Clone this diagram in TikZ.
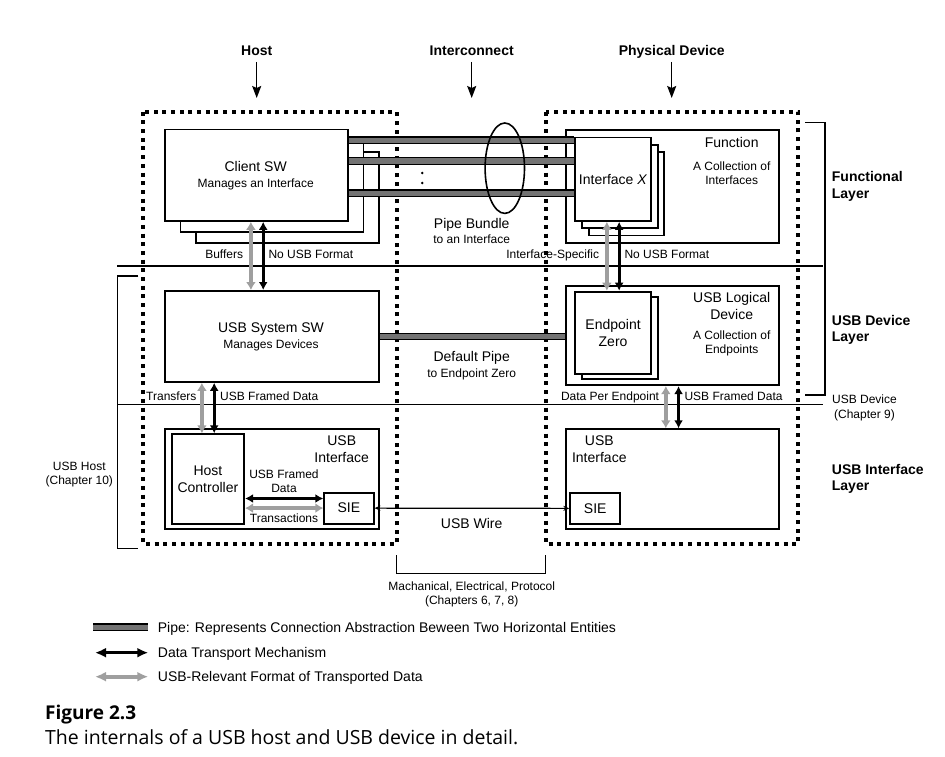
\documentclass[tikz,border=0pt]{standalone}
\usepackage{fontspec}
\setmainfont{Liberation Sans}
\newfontfamily\capfont{Open Sans}
\usepackage{tikz}
\usetikzlibrary{arrows.meta,positioning,calc}

\begin{document}
\begin{tikzpicture}[x=1pt,y=-1pt,
    every node/.style={inner sep=0pt},
    lbl/.style={font=\fontsize{14}{16.7}\selectfont, align=center},
    sublbl/.style={font=\fontsize{12}{14.4}\selectfont, align=center},
    hdrlbl/.style={font=\fontsize{14}{16.3}\selectfont\bfseries, anchor=base},
    layerlbl/.style={font=\fontsize{14}{16.3}\selectfont\bfseries, align=left, anchor=west},
    box/.style={draw, line width=1.8pt, fill=white, anchor=north west},
    dotline/.style={line width=4pt, dash pattern=on 4pt off 4.7pt},
    layerline/.style={line width=1.5pt},
    pipe/.style={line width=1.4pt, double=gray!90!black, double distance=5pt},
    xfer/.style={line width=2.8pt, {Latex[length=8pt,width=9pt]}-{Latex[length=8pt,width=9pt]}},
    fmt/.style={line width=3.6pt, gray!75, {Latex[length=8pt,width=10pt]}-{Latex[length=8pt,width=10pt]}},
    wire/.style={line width=1.2pt, {Stealth[length=6pt,width=5pt]}-{Stealth[length=6pt,width=5pt]}},
    hdrarrow/.style={line width=1.5pt, -{Stealth[length=12pt,width=9pt,inset=2pt]}, shorten <=6pt}
]
    \useasboundingbox (0,0) rectangle (945,757);

    % Column headers
    \node[hdrlbl] (hdrhost) at (256.7,55.7) {Host};
    \node[hdrlbl] (hdricon) at (471.7,55.7) {Interconnect};
    \node[hdrlbl] (hdrdev) at (671.7,55.7) {Physical Device};
    \coordinate (hostin) at (256.7,98);
    \coordinate (iconin) at (471.7,98);
    \coordinate (devin) at (671.7,98);
    \foreach \h/\c in {hdrhost/hostin, hdricon/iconin, hdrdev/devin}
        \draw[hdrarrow] (\h.base |- 0,56) -- (\c);

    % Dotted outlines of host and device
    \draw[dotline] (143.3,111.7) rectangle (396.7,544);
    \draw[dotline] (546,111.7) rectangle (798.3,544);

    % Layer rules and brackets
    \draw[layerline] (117,266) -- (823,266);
    \draw[layerline] (117,404.6) -- (823,404.6);
    \draw[layerline] (138.3,276) -- (117.3,276) -- (117.3,548.3) -- (138.3,548.3);
    \draw[layerline] (805,122.7) -- (825,122.7) -- (825,395) -- (805,395);
    \draw[layerline] (396.7,555) -- (396.7,573.3) -- (545.7,573.3) -- (545.7,555);

    % Functional layer
    \foreach \i in {2,1}
        \node[box, minimum width=183, minimum height=91.3] (client\i) at ({164.3+15.3*\i},{128.7+11.2*\i}) {};
    \node[box, minimum width=183, minimum height=91.3] (client) at (164.3,128.7) {};
    \node[lbl, anchor=base] (clientname) at (255.7,171.7) {Client SW};
    \node[sublbl, anchor=base] (clientdesc) at (255.7,187.6) {Manages an Interface};

    \node[box, minimum width=212.7, minimum height=112.7] (func) at (565,129) {};
    \node[lbl, anchor=base] (funcname) at (731.7,147.7) {Function};
    \node[sublbl] (funcdesc) at (731.7,173) {A Collection of\\Interfaces};
    \foreach \i in {2,1}
        \node[box, minimum width=75.7, minimum height=83.3] (ifx\i) at ({574.3+6.7*\i},{136.7+7.3*\i}) {};
    \node[box, lbl, minimum width=75.7, minimum height=83.3] (ifx) at (574.3,136.7) {Interface \textit{X}};

    % Pipe bundle
    \foreach \py in {140.3,161,193}
        \draw[pipe] (client.east |- 0,\py) -- (ifx.west |- 0,\py);
    \draw[line width=1.6pt] (504.8,168.2) ellipse [x radius=19.7, y radius=45.2];
    \fill (422.3,173) circle[radius=1.4] (422.3,183) circle[radius=1.4];
    \node[lbl, anchor=base] (bundle) at (471.7,228.3) {Pipe Bundle};
    \node[sublbl, anchor=base] (bundledesc) at (471.7,243.6) {to an Interface};

    % USB device layer
    \node[box, minimum width=214, minimum height=91] (sys) at (164.3,290) {};
    \node[lbl, anchor=base] (sysname) at (271,332.3) {USB System SW};
    \node[sublbl, anchor=base] (sysdesc) at (271,348.6) {Manages Devices};

    \node[box, minimum width=213.3, minimum height=99.3] (logical) at (565,285) {};
    \node[lbl] (logname) at (731.7,306.3) {USB Logical\\Device};
    \node[sublbl] (logdesc) at (731.7,343.2) {A Collection of\\Endpoints};
    \node[box, minimum width=75.7, minimum height=82.6] (ep1) at (581,295.7) {};
    \node[box, lbl, minimum width=75.7, minimum height=82.6] (ep) at (574.3,290.7) {Endpoint\\Zero};

    \draw[pipe] (sys.east) -- (sys.east -| logical.west);
    \node[lbl, anchor=base] (defpipe) at (471.7,361) {Default Pipe};
    \node[sublbl, anchor=base] (defpipedesc) at (471.7,377.6) {to Endpoint Zero};

    % USB interface layer
    \node[box, minimum width=214, minimum height=99.4] (hiface) at (164.3,428.3) {};
    \node[lbl] (hifacename) at (341.7,449.3) {USB\\Interface};
    \node[box, lbl, minimum width=72.6, minimum height=89.4] (hc) at (170.7,433.3) {Host\\Controller};
    \node[box, lbl, minimum width=49.4, minimum height=31] (hsie) at (323.3,491.7) {SIE};

    \node[box, minimum width=213.3, minimum height=99.4] (diface) at (565,428.3) {};
    \node[lbl] (difacename) at (599.3,449.3) {USB\\Interface};
    \node[box, lbl, minimum width=50, minimum height=31.6] (dsie) at (569.3,491.7) {SIE};

    % Data transport arrows
    \draw[fmt] ([xshift=-5.8]client.south) -- ([xshift=-5.8]client.south |- sys.north);
    \draw[xfer] ([xshift=6.5]client.south) -- ([xshift=6.5]client.south |- sys.north);
    \draw[fmt] ([xshift=-6.2]ifx.south) -- ([xshift=-6.2]ifx.south |- ep.north);
    \draw[xfer] ([xshift=6.1]ifx.south) -- ([xshift=6.1]ifx.south |- ep.north);
    \draw[fmt] ([xshift=-6]hc.north |- sys.south) -- ([xshift=-6]hc.north);
    \draw[xfer] ([xshift=6.3]hc.north |- sys.south) -- ([xshift=6.3]hc.north);
    \draw[fmt] ([xshift=-6.7]diface.north |- logical.south) -- ([xshift=-6.7]diface.north);
    \draw[xfer] ([xshift=6]diface.north |- logical.south) -- ([xshift=6]diface.north);
    \draw[fmt] (hc.east |- hsie.west) -- (hsie.west);
    \draw[xfer] ([yshift=9.6]hc.east |- hsie.west) -- ([yshift=9.6]hsie.west);
    \draw[wire] (hsie) -- (dsie);

    % Arrow labels
    \node[sublbl, anchor=base east] (buffers) at (243.3,258.3) {Buffers};
    \node[sublbl, anchor=base west] (nofmthost) at (268.3,258.3) {No USB Format};
    \node[sublbl, anchor=base east] (ifspec) at (599.3,258.3) {Interface-Specific};
    \node[sublbl, anchor=base west] (nofmtdev) at (624.3,258.3) {No USB Format};
    \node[sublbl, anchor=base west] (transfers) at (146,400) {Transfers};
    \node[sublbl, anchor=base west] (framedhost) at (220,400) {USB Framed Data};
    \node[sublbl, anchor=base east] (perep) at (659.3,400) {Data Per Endpoint};
    \node[sublbl, anchor=base west] (frameddev) at (684.3,400) {USB Framed Data};
    \node[sublbl] (framedhc) at (284,481) {USB Framed\\Data};
    \node[sublbl, anchor=base] (transact) at (284,522.6) {Transactions};
    \node[lbl, anchor=base] (usbwire) at (471.7,528) {USB Wire};
    \node[sublbl] (mech) at (471.7,594.3) {Machanical, Electrical, Protocol\\(Chapters 6, 7, 8)};

    % Side labels
    \node[sublbl] (usbhost) at (79.3,474.7) {USB Host\\(Chapter 10)};
    \node[sublbl] (usbdev) at (864.5,407.8) {USB Device\\(Chapter 9)};
    \node[layerlbl] (funclayer) at (831.7,186.3) {Functional\\Layer};
    \node[layerlbl] (devlayer) at (831.7,330) {USB Device\\Layer};
    \node[layerlbl] (iflayer) at (831.7,479.2) {USB Interface\\Layer};

    % Legend
    \coordinate (lgpipeA) at (93.3,627.3);
    \coordinate (lgpipeB) at (148.3,627.3);
    \coordinate (lgxferA) at (95,652.7);
    \coordinate (lgxferB) at (148.3,652.7);
    \coordinate (lgfmtA) at (95,676.7);
    \coordinate (lgfmtB) at (148.3,676.7);
    \draw[pipe] (lgpipeA) -- (lgpipeB);
    \draw[xfer, {Latex[length=11pt,width=10pt]}-{Latex[length=11pt,width=10pt]}] (lgxferA) -- (lgxferB);
    \draw[fmt, {Latex[length=11pt,width=10pt]}-{Latex[length=11pt,width=10pt]}] (lgfmtA) -- (lgfmtB);
    \node[lbl, anchor=base west] (lgpipe) at (157.7,632.3) {Pipe: Represents Connection Abstraction Beween Two Horizontal Entities};
    \node[lbl, anchor=base west] (lgxfer) at (157.7,657.7) {Data Transport Mechanism};
    \node[lbl, anchor=base west] (lgfmt) at (157.7,681.7) {USB-Relevant Format of Transported Data};

    % Caption
    \node[font=\capfont\fontsize{19}{23}\selectfont\bfseries, anchor=base west] (figno) at (45,719) {Figure 2.3};
    \node[font=\capfont\fontsize{19.5}{23}\selectfont, anchor=base west] (figcap) at (45,744) {The internals of a USB host and USB device in detail.};
\end{tikzpicture}
\end{document}
